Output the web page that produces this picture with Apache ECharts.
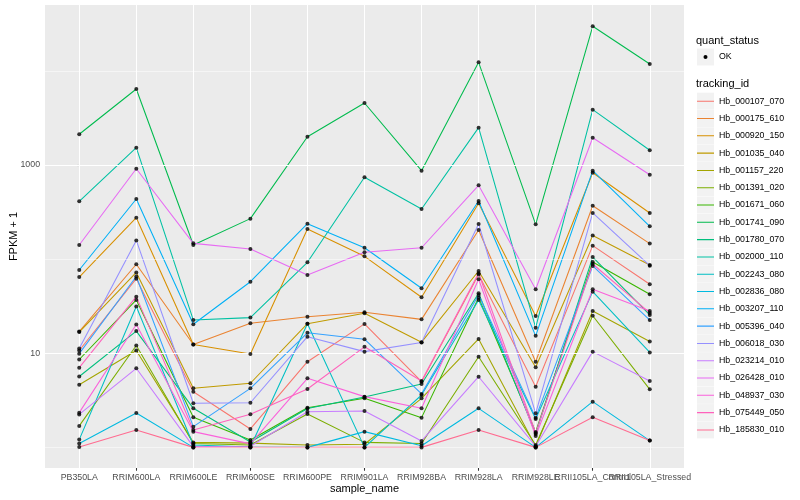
<!DOCTYPE html>
<html><head><meta charset="utf-8">
<script src="https://cdn.jsdelivr.net/npm/echarts@6/dist/echarts.min.js"></script>
<style>html,body{margin:0;padding:0;background:#fff}#c{width:800px;height:500px}</style>
</head><body><div id="c"></div>
<script>
const categories = ['PB350LA','RRIM600LA','RRIM600LE','RRIM600SE','RRIM600PE','RRIM901LA','RRIM928BA','RRIM928LA','RRIM928LE','RRII105LA_Control','RRII105LA_Stressed'];
const trackingIds = ['Hb_000107_070','Hb_000175_610','Hb_000920_150','Hb_001035_040','Hb_001157_220','Hb_001391_020','Hb_001671_060','Hb_001741_090','Hb_001780_070','Hb_002000_110','Hb_002243_080','Hb_002836_080','Hb_003207_110','Hb_005396_040','Hb_006018_030','Hb_023214_010','Hb_026428_010','Hb_048937_030','Hb_075449_050','Hb_185830_010'];

// FPKM + 1 per sample, in category order
const hb_000107_070 = [10.7, 61.9, 3.90, 1.57, 8.13, 20.5, 4.99, 68.6, 4.41, 139, 54.0];
const hb_000175_610 = [17.0, 88.1, 12.4, 20.8, 24.4, 27.2, 22.9, 204, 8.13, 369, 146];
const hb_000920_150 = [64.5, 275, 12.4, 9.8, 209, 107, 39.3, 392, 24.9, 827, 309];
const hb_001035_040 = [16.8, 72.1, 4.24, 4.80, 20.6, 26.6, 13.1, 74.8, 7.09, 178, 86.6];
const hb_001157_220 = [4.63, 10.7, 1.13, 1.11, 1.06, 1.08, 3.32, 14.2, 1.02, 28.1, 13.3];
const hb_001391_020 = [1.69, 12.1, 1.10, 1.06, 2.26, 1.13, 1.10, 9.19, 1.06, 25.0, 4.14];
const hb_001671_060 = [8.58, 36.8, 2.09, 1.20, 2.64, 3.32, 2.07, 38.9, 1.46, 93.1, 42.3];
const hb_001741_090 = [2120, 6410, 141, 269, 1995, 4550, 869, 12300, 234, 29700, 11800];
const hb_001780_070 = [5.66, 17.2, 2.60, 1.14, 2.59, 3.43, 4.71, 43.3, 1.39, 105, 25.5];
const hb_002000_110 = [411, 1525, 22.5, 23.9, 92.5, 739, 341, 2489, 18.7, 3864, 1432];
const hb_002243_080 = [1.21, 31.4, 1.06, 1.01, 20.6, 1.0, 3.60, 36.8, 2.00, 45.1, 10.2];
const hb_002836_080 = [1.10, 2.32, 1.0, 1.0, 1.0, 1.47, 1.04, 2.60, 1.0, 3.06, 1.18];
const hb_003207_110 = [76.6, 435, 20.3, 57.5, 238, 132, 49.0, 414, 15.3, 869, 223];
const hb_005396_040 = [9.9, 65.3, 1.66, 4.24, 16.5, 14.1, 3.7, 41.6, 2.07, 84.5, 22.5];
const hb_006018_030 = [11.2, 158, 2.94, 2.98, 15.0, 10.4, 13.0, 236, 2.30, 309, 85.1];
const hb_023214_010 = [2.24, 6.92, 1.02, 1.03, 2.39, 2.44, 1.17, 5.63, 1.03, 10.4, 5.07];
const hb_026428_010 = [141, 912, 147, 128, 67.8, 118, 132, 608, 47.8, 1946, 788];
const hb_048937_030 = [2.34, 20.2, 1.47, 1.09, 5.42, 3.46, 2.60, 61.0, 1.32, 47.8, 28.1];
const hb_075449_050 = [7.02, 39.9, 1.53, 2.25, 4.17, 11.7, 5.07, 70.7, 1.42, 88.7, 26.8];
const hb_185830_010 = [1.01, 1.53, 1.0, 1.0, 1.0, 1.0, 1.0, 1.53, 1.0, 2.09, 1.18];

const yTickValues = [10, 1000];
const yTickLabels = ['10', '1000'];
const yMinorValues = [1, 100, 10000];
const yRange = [0.604, 50000];
const quantStatus = ['OK'];

const seriesValues = [hb_000107_070, hb_000175_610, hb_000920_150, hb_001035_040, hb_001157_220, hb_001391_020, hb_001671_060, hb_001741_090, hb_001780_070, hb_002000_110, hb_002243_080, hb_002836_080, hb_003207_110, hb_005396_040, hb_006018_030, hb_023214_010, hb_026428_010, hb_048937_030, hb_075449_050, hb_185830_010];

const palette = ["#F8766D","#EA8331","#D89000","#C09B00","#A3A500","#7CAE00","#39B600","#00BB4E","#00BF7D","#00C1A3","#00BFC4","#00BAE0","#00B0F6","#35A2FF","#9590FF","#C77CFF","#E76BF3","#FA62DB","#FF62BC","#FF6C91"];
const FONT = '"Liberation Sans", Arial, Helvetica, sans-serif';
const LINE_ICON = 'path://M0,0h0.01v0.01h-0.01z M0,8h17v1.07h-17z M16.99,16.99h0.01v0.01h-0.01z';

const lineSeries = trackingIds.map((id, k) => ({
  name: id, type: 'line', z: 3, showSymbol: false, symbol: 'none', silent: true,
  xAxisIndex: 0, yAxisIndex: 0,
  itemStyle: { color: palette[k] },
  lineStyle: { color: palette[k], width: 1.07 },
  data: seriesValues[k].map((v, i) => [i, v])
}));

const pointData = [];
seriesValues.forEach(arr => arr.forEach((v, i) => pointData.push([i, v])));

const gridWhite = (w) => ({ color: '#FFFFFF', width: w, type: 'solid', opacity: 1 });
const gridSeries = {
  name: 'grid', type: 'line', data: [], z: 1, silent: true, clip: false,
  xAxisIndex: 0, yAxisIndex: 0,
  markLine: {
    silent: true, animation: false, symbol: ['none', 'none'], label: { show: false },
    emphasis: { disabled: true },
    data: [].concat(
      yMinorValues.map(v => ({ yAxis: v, lineStyle: gridWhite(0.53) })),
      yTickValues.map(v => ({ yAxis: v, lineStyle: gridWhite(1.07) })),
      categories.map((c, i) => ({ xAxis: i, lineStyle: gridWhite(1.07) }))
    )
  }
};

const pointSeries = {
  name: quantStatus[0], type: 'scatter', z: 5, silent: true,
  xAxisIndex: 0, yAxisIndex: 0,
  symbol: 'circle', symbolSize: 4,
  itemStyle: { color: '#000000' },
  data: pointData
};

// labels split over two identical bottom axes so neighbouring long labels are all kept
const xIdxEven = categories.map((c, i) => i).filter(i => i % 2 === 0);
const xIdxOdd = categories.map((c, i) => i).filter(i => i % 2 === 1);
const xAxisBase = (vals) => ({
  type: 'value', min: -0.6, max: categories.length - 0.4, position: 'bottom', offset: 0,
  splitLine: { show: false }, axisLine: { show: false },
  axisTick: { show: true, customValues: vals, length: 2.75, lineStyle: { color: '#333333', width: 1.07 } },
  axisLabel: { customValues: vals, formatter: v => categories[Math.round(v)] || '', color: '#4D4D4D', fontSize: 8.8, margin: 4.95, fontFamily: FONT, hideOverlap: false, showMinLabel: true, showMaxLabel: true }
});

const chart = echarts.init(document.getElementById('c'), null, { renderer: 'canvas' });
chart.setOption({
  animation: false,
  backgroundColor: '#FFFFFF',
  textStyle: { fontFamily: FONT },
  grid: { left: 45, right: 116, top: 5, bottom: 32, show: true, backgroundColor: '#EBEBEB', borderWidth: 0, containLabel: false, outerBoundsMode: 'none' },
  xAxis: [
    Object.assign(xAxisBase(xIdxEven), {
      name: 'sample_name', nameLocation: 'middle', nameGap: 15, nameMoveOverlap: false,
      nameTextStyle: { color: '#000000', fontSize: 11, fontFamily: FONT }
    }),
    xAxisBase(xIdxOdd)
  ],
  yAxis: [
    { type: 'log', logBase: 10, min: yRange[0], max: yRange[1], show: false, position: 'left' },
    {
      type: 'value', position: 'left', min: Math.log10(yRange[0]), max: Math.log10(yRange[1]),
      splitLine: { show: false }, axisLine: { show: false },
      axisTick: { show: true, customValues: yTickValues.map(v => Math.log10(v)), length: 2.75, lineStyle: { color: '#333333', width: 1.07 } },
      axisLabel: {
        customValues: yTickValues.map(v => Math.log10(v)),
        formatter: v => { for (let j = 0; j < yTickValues.length; j++) { if (Math.abs(Math.log10(yTickValues[j]) - v) < 1e-6) return yTickLabels[j]; } return ''; },
        color: '#4D4D4D', fontSize: 8.8, margin: 4.95, fontFamily: FONT, showMinLabel: true, showMaxLabel: true
      },
      name: 'FPKM + 1', nameLocation: 'middle', nameGap: 26, nameMoveOverlap: false,
      nameTextStyle: { color: '#000000', fontSize: 11, fontFamily: FONT }
    }
  ],
  legend: [
    {
      orient: 'vertical', left: 697, top: 92.7, padding: 0, itemWidth: 17, itemHeight: 17, itemGap: 0.3,
      icon: 'rect', selectedMode: false, itemStyle: { color: '#F2F2F2', borderWidth: 0 },
      textStyle: { color: 'rgba(0,0,0,0)', fontSize: 8.8, fontFamily: FONT },
      data: trackingIds.slice(), z: 4
    },
    {
      orient: 'vertical', left: 697, top: 92.7, padding: 0, itemWidth: 17, itemHeight: 17, itemGap: 0.3,
      icon: LINE_ICON, selectedMode: false, itemStyle: { borderWidth: 0 },
      textStyle: { color: '#000000', fontSize: 8.8, fontFamily: FONT },
      data: trackingIds.slice(), z: 5
    }
  ],
  graphic: [
    { type: 'text', x: 696, y: 40.7, style: { text: 'quant_status', fontSize: 11, fontFamily: FONT, fill: '#000', verticalAlign: 'middle' } },
    { type: 'rect', shape: { x: 697, y: 48.5, width: 17, height: 17 }, style: { fill: '#F2F2F2' } },
    { type: 'circle', shape: { cx: 705.5, cy: 57, r: 2 }, style: { fill: '#000' } },
    { type: 'text', x: 719, y: 57, style: { text: quantStatus[0], fontSize: 8.8, fontFamily: FONT, fill: '#000', verticalAlign: 'middle' } },
    { type: 'text', x: 696, y: 84, style: { text: 'tracking_id', fontSize: 11, fontFamily: FONT, fill: '#000', verticalAlign: 'middle' } }
  ],
  series: [gridSeries].concat(lineSeries, [pointSeries])
});
</script></body></html>
